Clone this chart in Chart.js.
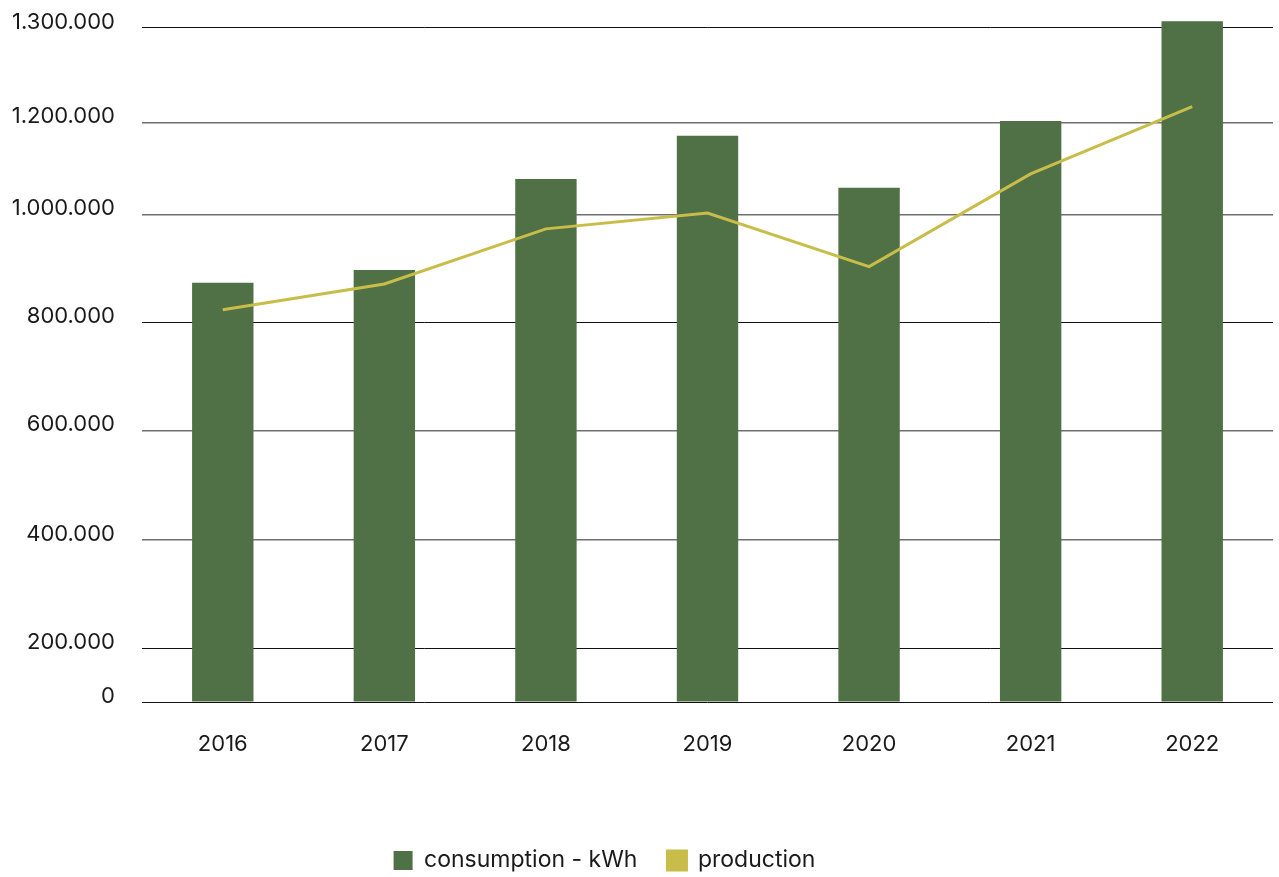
<!DOCTYPE html>
<html lang="en">
<head>
    <meta charset="UTF-8">
    <title>Consumption vs production</title>
    <script src="https://cdn.jsdelivr.net/npm/chart.js"></script>
    <style>
        html, body { margin: 0; padding: 0; background: #fff; }
        #wrap { width: 1279px; height: 877px; }
    </style>
</head>
<body>
    <div id="wrap"><canvas id="energyChart" width="1279" height="877"></canvas></div>

    <script>
        const years = ['2016', '2017', '2018', '2019', '2020', '2021', '2022'];
        const consumption = [874000, 898000, 1078000, 1172000, 1059000, 1202000, 1307000];
        const production = [824000, 872000, 974000, 1004000, 904000, 1089000, 1217000];
        const yTicks = [0, 200000, 400000, 600000, 800000, 1000000, 1200000, 1300000];

        // the original axis is not evenly spaced: each tick sits at its own height
        const tickStops = [0, 0.078, 0.234, 0.392, 0.548, 0.704, 0.837, 0.974, 1];
        const tickValues = [0, 200000, 400000, 600000, 800000, 1000000, 1200000, 1300000, 1319000];

        class PiecewiseScale extends Chart.LinearScale {
            getPixelForValue(value) {
                let f = 0;
                for (let i = 1; i < tickValues.length; i++) {
                    if (value <= tickValues[i] || i === tickValues.length - 1) {
                        const a = tickValues[i - 1], b = tickValues[i];
                        f = tickStops[i - 1] + (value - a) / (b - a) * (tickStops[i] - tickStops[i - 1]);
                        break;
                    }
                }
                return this.bottom - f * (this.bottom - this.top);
            }
            getValueForPixel(pixel) {
                const f = (this.bottom - pixel) / (this.bottom - this.top);
                for (let i = 1; i < tickStops.length; i++) {
                    if (f <= tickStops[i] || i === tickStops.length - 1) {
                        const a = tickStops[i - 1], b = tickStops[i];
                        return tickValues[i - 1] + (f - a) / (b - a) * (tickValues[i] - tickValues[i - 1]);
                    }
                }
                return 0;
            }
        }
        PiecewiseScale.id = 'piecewise';
        PiecewiseScale.defaults = Chart.LinearScale.defaults;
        Chart.register(PiecewiseScale);

        const darkLines = [0, 200000, 800000, 1300000];
        const fmt = (v) => String(v).replace(/\B(?=(\d{3})+(?!\d))/g, '.');

        // legend sits a bit left of the canvas centre in the original
        const shiftLegend = {
            id: 'shiftLegend',
            afterLayout(chart) {
                chart.legend.left -= 32;
                chart.legend.right -= 32;
            }
        };

        Chart.defaults.font.family = 'Inter, "Open Sans", sans-serif';
        Chart.defaults.color = '#1a1a1a';

        new Chart(document.getElementById('energyChart'), {
            type: 'bar',
            data: {
                labels: years,
                datasets: [{
                    type: 'bar',
                    label: 'consumption - kWh',
                    data: consumption,
                    backgroundColor: '#507045',
                    borderWidth: 0,
                    barPercentage: 0.76,
                    categoryPercentage: 0.5,
                    order: 2
                }, {
                    type: 'line',
                    label: 'production',
                    data: production,
                    borderColor: '#C9BD4A',
                    backgroundColor: '#C9BD4A',
                    borderWidth: 3,
                    pointRadius: 0,
                    tension: 0,
                    order: 1
                }]
            },
            plugins: [shiftLegend],
            options: {
                responsive: false,
                animation: false,
                layout: { padding: { top: 10, right: 6, bottom: -5, left: 0 } },
                plugins: {
                    tooltip: { enabled: false },
                    legend: {
                        position: 'bottom',
                        labels: {
                            boxWidth: 19,
                            boxHeight: 19,
                            padding: 30,
                            font: { size: 23 },
                            sort: (a, b) => a.datasetIndex - b.datasetIndex
                        }
                    }
                },
                scales: {
                    x: {
                        grid: { display: false },
                        border: { display: false },
                        ticks: { padding: 21, font: { size: 22 } },
                        afterFit: (s) => { s.height = 117; }
                    },
                    y: {
                        type: 'piecewise',
                        min: 0,
                        max: 1319000,
                        border: { display: false },
                        afterBuildTicks: (s) => { s.ticks = yTicks.map(v => ({ value: v })); },
                        afterFit: (s) => {
                            s.width = 142;
                            s.paddingTop = 0;
                            s.paddingBottom = 0;
                        },
                        grid: {
                            drawTicks: false,
                            color: (ctx) => darkLines.includes(ctx.tick.value) ? '#111' : '#707070',
                            lineWidth: (ctx) => darkLines.includes(ctx.tick.value) ? 1 : 1.6
                        },
                        ticks: {
                            padding: 27,
                            labelOffset: -6,
                            font: { size: 22 },
                            callback: (v) => fmt(v)
                        }
                    }
                }
            }
        });
    </script>
</body>
</html>
